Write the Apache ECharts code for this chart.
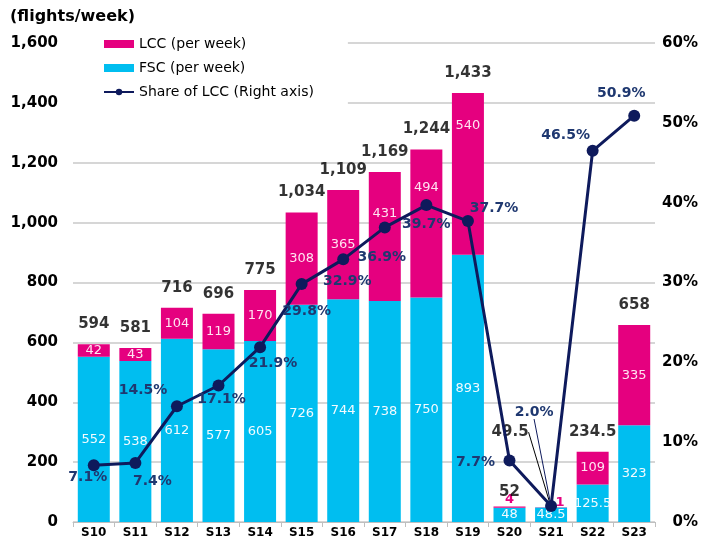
<!DOCTYPE html>
<html>
<head>
<meta charset="utf-8">
<script src="https://cdn.jsdelivr.net/npm/echarts@6/dist/echarts.min.js"></script>
<style>
html,body{margin:0;padding:0;background:#fff;}
#main{width:709px;height:541px;}
</style>
</head>
<body>
<div id="main"></div>
<script>
var seasons = ['S10','S11','S12','S13','S14','S15','S16','S17','S18','S19','S20','S21','S22','S23'];
var fsc = [552,538,612,577,605,726,744,738,750,893,48,48.5,125.5,323];
var lcc = [42,43,104,119,170,308,365,431,494,540,4,1,109,335];
var totals = [594,581,716,696,775,1034,1109,1169,1244,1433,52,49.5,234.5,658];
var share = [7.1,7.4,14.5,17.1,21.9,29.8,32.9,36.9,39.7,37.7,7.7,2.0,46.5,50.9];

// label offsets for share of LCC (x, y from the point)
var shareOffset = [[-6,12],[17,18],[-34,-16],[3,14],[13,16],[5,27],[4,22],[-3,30],[0,19],[26,-13],[-34,2],[-17,-94],[-27,-15],[-13,-22]];
// LCC label shift from the middle of the pink part
var lccShift = [0,0,0,0,0,0,0,-23,-36,-48,0,0,0,0];

var PINK = '#E5007F';
var CYAN = '#00BEF0';
var NAVY = '#0E1A5C';
var FONT = 'DejaVu Sans';

var chart = echarts.init(document.getElementById('main'));

var lccData = [];
var fscData = [];
var totalData = [];
var shareData = [];
for (var i = 0; i < seasons.length; i++) {
    var item = { value: lcc[i], label: { offset: [0, lccShift[i]] } };
    if (i == 10) {
        item.label = { position: 'top', distance: 0, color: PINK, fontWeight: 'bold' };
    }
    if (i == 11) {
        item.label = { position: 'top', distance: 0, offset: [9, 2], color: PINK, fontWeight: 'bold' };
    }
    lccData.push(item);
    fscData.push({ value: fsc[i] });
    var t = { value: totals[i] };
    if (i == 10) t.label = { distance: 6 };
    if (i == 11) t.labelLine = { show: true, lineStyle: { color: '#000', width: 1 } };
    totalData.push(t);
    var s = { value: share[i] };
    if (i == 11) s.labelLine = { show: true, lineStyle: { color: NAVY, width: 1 } };
    shareData.push(s);
}

var option = {
    animation: false,
    textStyle: { fontFamily: FONT },
    graphic: [{
        type: 'text',
        left: 10,
        top: 9,
        style: { text: '(flights/week)', fontFamily: FONT, fontSize: 16, fontWeight: 'bold', fill: '#000' }
    }],
    legend: {
        orient: 'vertical',
        left: 73,
        top: 34,
        padding: [3, 34, 12, 30],
        backgroundColor: '#fff',
        itemWidth: 30,
        itemHeight: 8,
        itemGap: 10,
        z: 10,
        textStyle: { fontFamily: FONT, fontSize: 14, color: '#000' },
        data: [
            { name: 'LCC (per week)', icon: 'rect' },
            { name: 'FSC (per week)', icon: 'rect' },
            { name: 'Share of LCC (Right axis)' }
        ]
    },
    grid: { left: 73, right: 54, top: 43, bottom: 19 },
    xAxis: {
        type: 'category',
        data: seasons,
        axisLine: { lineStyle: { color: '#BFBFBF' } },
        axisTick: { show: true, lineStyle: { color: '#BFBFBF' } },
        axisLabel: { color: '#000', fontWeight: 'bold', fontSize: 12, margin: 5, fontFamily: FONT }
    },
    yAxis: [{
        type: 'value',
        min: 0,
        max: 1600,
        interval: 200,
        axisLine: { show: false },
        axisTick: { show: false },
        splitLine: { lineStyle: { color: '#C8C8C8', width: 1.5 } },
        axisLabel: {
            color: '#000', fontWeight: 'bold', fontSize: 15, margin: 15, fontFamily: FONT,
            formatter: function (v) { return v.toLocaleString('en-US'); }
        }
    }, {
        type: 'value',
        min: 0,
        max: 60,
        interval: 10,
        axisLine: { show: false },
        axisTick: { show: false },
        splitLine: { show: false },
        axisLabel: {
            color: '#000', fontWeight: 'bold', fontSize: 15, margin: 43, align: 'right', fontFamily: FONT,
            formatter: '{value}%'
        }
    }],
    series: [{
        name: 'FSC (per week)',
        type: 'bar',
        stack: 'all',
        barWidth: 32,
        itemStyle: { color: CYAN },
        label: { show: true, position: 'inside', color: '#F2FBFF', fontSize: 13, fontFamily: FONT },
        data: fscData
    }, {
        name: 'LCC (per week)',
        type: 'bar',
        stack: 'all',
        barWidth: 32,
        itemStyle: { color: PINK },
        label: { show: true, position: 'inside', color: '#FFE3F1', fontSize: 13, fontFamily: FONT },
        data: lccData
    }, {
        name: 'total',
        type: 'scatter',
        symbolSize: 1,
        itemStyle: { color: 'rgba(0,0,0,0)' },
        label: {
            show: true, position: 'top', distance: 12, color: '#000', fontWeight: 'bold', fontSize: 15, fontFamily: FONT,
            formatter: function (p) { return p.value.toLocaleString('en-US'); }
        },
        labelLayout: function (p) {
            if (p.dataIndex == 11) return { dx: -41, dy: -55 };
            return {};
        },
        z: 5,
        data: totalData
    }, {
        name: 'Share of LCC (Right axis)',
        type: 'line',
        yAxisIndex: 1,
        symbol: 'circle',
        symbolSize: 12,
        lineStyle: { color: NAVY, width: 3 },
        itemStyle: { color: NAVY },
        label: {
            show: true, position: 'inside', color: '#1F3870', fontWeight: 'bold', fontSize: 14, fontFamily: FONT,
            formatter: function (p) { return p.value.toFixed(1) + '%'; }
        },
        labelLayout: function (p) {
            var o = shareOffset[p.dataIndex];
            return { dx: o[0], dy: o[1] };
        },
        z: 6,
        data: shareData
    }]
};
chart.setOption(option);
</script>
</body>
</html>
